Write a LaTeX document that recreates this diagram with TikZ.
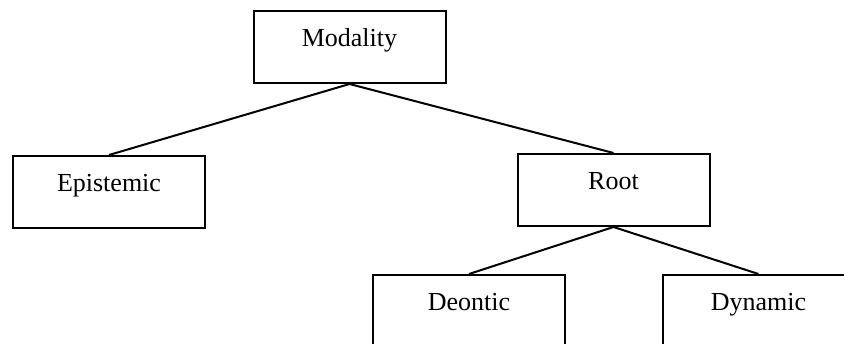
\documentclass[tikz,border=0pt]{standalone}
\usepackage{fontspec}
\setmainfont{Liberation Serif}
\usepackage{tikz}
\usetikzlibrary{positioning}

\begin{document}
\begin{tikzpicture}[x=1pt,y=-1pt,line width=2pt,
			box node/.style={rectangle,draw,inner sep=0pt,
				font=\fontsize{26}{30}\selectfont,minimum width=192pt,
				text height=36pt,text depth=36pt}]
			
			\clip (0,0) rectangle (844,344);
			
			\node[box node] (M) at (349.5,47) {Modality};
			\node[box node] (E) at (109,192) {Epistemic};
			\node[box node] (R) at (613.5,190) {Root};
			
			% lower level
			\node[box node] (D) at (469,311) {Deontic};
			\node[box node] (Y) at (758.5,311) {Dynamic};
			
			\path[line width=2pt]
			(M.south) edge (E.north)
			(M.south) edge (R.north)
			(R.south) edge (D.north)
			(R.south) edge (Y.north);
		\end{tikzpicture}
\end{document}
